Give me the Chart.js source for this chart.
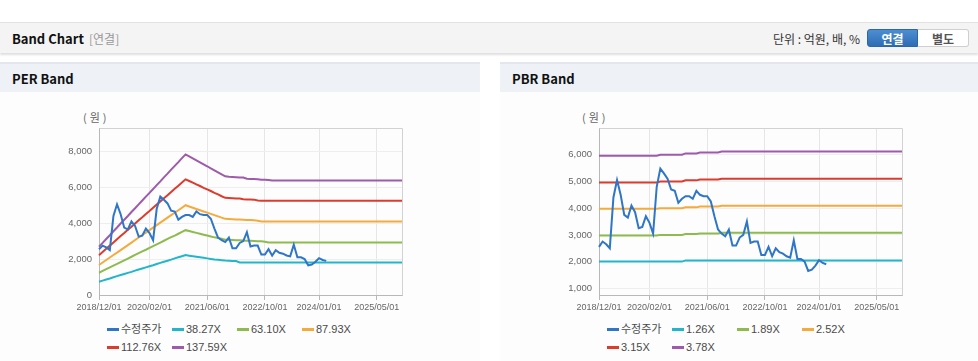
<!DOCTYPE html>
<html><head><meta charset="utf-8">
<script src="https://cdn.jsdelivr.net/npm/chart.js@4.4.1/dist/chart.umd.min.js"></script>
<style>
html,body{margin:0;padding:0}
body{width:978px;height:361px;overflow:hidden;background:#fff;position:relative;font-family:"Liberation Sans","Noto Sans CJK KR",sans-serif}
.hdr{position:absolute;left:0;top:22px;width:978px;height:30px;background:#f4f4f4;border-top:1px solid #e2e2e2;box-shadow:0 2px 2px rgba(0,0,0,0.13)}
.abs{position:absolute;white-space:nowrap}
.htitle{left:12px;top:9px;font-family:"Noto Sans CJK KR";font-weight:bold;font-size:13px;line-height:13px;color:#111}
.hsub{left:89px;top:9px;font-family:"Noto Sans CJK KR";font-size:12px;line-height:13px;color:#999}
.unit{right:118px;top:9px;font-family:"Noto Sans CJK KR";font-size:12px;line-height:13px;color:#333}
.btn{top:6px;height:18px;width:51px;box-sizing:border-box;text-align:center;font-family:"Noto Sans CJK KR";font-weight:bold;font-size:12px;line-height:17px}
.b1{left:867px;background:linear-gradient(#4d8dd2,#2e6db3);color:#fff;border:1px solid #2c66a8;border-radius:3px 0 0 3px}
.b2{left:918px;background:#fff;color:#555;border:1px solid #cfcfcf;border-left:none;border-radius:0 3px 3px 0}
.panel{position:absolute;top:62px;width:480px;height:299px;background:#fdfdfd}
.ptitle{position:absolute;left:0;top:0;width:480px;height:28px;border-top:2px solid #e3e7ed;background:#eef2f7}
.ptitle span{position:absolute;left:12px;top:8px;font-family:"Noto Sans CJK KR";font-weight:bold;font-size:13px;line-height:13px;color:#111}
.unitlbl{position:absolute;left:83px;top:50px;font-family:"Noto Sans CJK KR";font-size:11px;line-height:11px;color:#666;letter-spacing:3px}
.cv{position:absolute;left:0;top:33px;width:480px;height:225px}
.legend{position:absolute;left:107px;top:261px;width:300px}
.legend .it{display:inline-block;width:65px;height:13.5px;line-height:13.5px;font-size:11px;color:#4a4a4a;white-space:nowrap;vertical-align:top}
.legend .mk{display:inline-block;width:12px;height:3px;vertical-align:middle;margin-right:2px;position:relative;top:-1px}
</style></head>
<body>
<div class="hdr">
  <div class="abs htitle">Band Chart</div>
  <div class="abs hsub">[연결]</div>
  <div class="abs unit">단위 : 억원, 배, %</div>
  <div class="abs btn b1">연결</div>
  <div class="abs btn b2">별도</div>
</div>
<div class="panel" style="left:0">
  <div class="ptitle"><span>PER Band</span></div>
  <div class="unitlbl">(원)</div>
  <div class="cv"><canvas id="per" width="480" height="225"></canvas></div>
  <div class="legend" id="perLegend"></div>
</div>
<div class="panel" style="left:500px">
  <div class="ptitle"><span>PBR Band</span></div>
  <div class="unitlbl" style="left:82px">(원)</div>
  <div class="cv"><canvas id="pbr" width="480" height="225"></canvas></div>
  <div class="legend" id="pbrLegend"></div>
</div>
<script>
// ---- categories (monthly, 2018/12/01 .. 2025/12/01) ----
const months = [];
for (let i = 0; i < 85; i++) {
  const t = 2018 * 12 + 11 + i;
  months.push(Math.floor(t / 12) + '/' + String(t % 12 + 1).padStart(2, '0') + '/01');
}
const xTickLabels = ['2018/12/01','2020/02/01','2021/06/01','2022/10/01','2024/01/01','2025/05/01'];
const perYTicks = [0, 2000, 4000, 6000, 8000];
const pbrYTicks = [1000, 2000, 3000, 4000, 5000, 6000];

// ---- adjusted price (수정주가), monthly, 2018/12 .. 2024/03 ----
const price = [
  2550,2750,2650,2500,4400,5050,4500,3750,3650,4100,
  3850,3250,3300,3700,3450,3050,4800,5480,5300,5100,
  4700,4650,4200,4350,4450,4450,4350,4650,4500,4450,
  4450,4250,3700,3200,3050,2950,3200,2600,2600,2900,
  3000,3500,2700,2750,2750,2250,2250,2550,2200,2500,
  2350,2300,2200,2150,2800,2100,2100,2000,1650,1700,
  1850,2050,1950,1900
];

// ---- PER bands ----
const perLabels = ['38.27X','63.10X','87.93X','112.76X','137.59X'];
const per38 = [
  740,800,860,920,990,1050,1110,1170,1230,1290,
  1360,1420,1480,1540,1600,1660,1730,1790,1850,1910,
  1970,2040,2100,2160,2220,2190,2160,2130,2100,2070,
  2040,2010,1980,1960,1940,1920,1910,1900,1890,1810,
  1810,1810,1810,1810,1810,1810,1810,1810,1810,1810,
  1810,1810,1810,1810,1810,1810,1810,1810,1810,1810,
  1810,1810,1810,1810,1810,1810,1810,1810,1810,1810,
  1810,1810,1810,1810,1810,1810,1810,1810,1810,1810,
  1810,1810,1810,1810,1810
];
const per63 = [
  1240,1340,1440,1540,1640,1730,1830,1930,2030,2130,
  2230,2330,2430,2520,2620,2720,2820,2920,3020,3120,
  3220,3310,3410,3510,3610,3560,3510,3460,3410,3360,
  3310,3260,3210,3180,3130,3080,3070,3060,3050,3050,
  3030,3020,3020,3010,3000,2990,2970,2930,2930,2930,
  2930,2930,2930,2930,2930,2930,2930,2930,2930,2930,
  2930,2930,2930,2930,2930,2930,2930,2930,2930,2930,
  2930,2930,2930,2930,2930,2930,2930,2930,2930,2930,
  2930,2930,2930,2930,2930
];
const per87 = [
  1670,1810,1950,2090,2230,2360,2500,2640,2780,2920,
  3060,3200,3340,3470,3610,3750,3890,4030,4170,4310,
  4450,4580,4720,4860,5000,4930,4860,4790,4720,4650,
  4590,4520,4450,4380,4310,4240,4230,4220,4210,4200,
  4190,4180,4170,4160,4140,4100,4100,4100,4100,4100,
  4100,4100,4100,4100,4100,4100,4100,4100,4100,4100,
  4100,4100,4100,4100,4100,4100,4100,4100,4100,4100,
  4100,4100,4100,4100,4100,4100,4100,4100,4100,4100,
  4100,4100,4100,4100,4100
];
const per112 = [
  2220,2400,2570,2750,2920,3100,3280,3450,3630,3800,
  3980,4160,4330,4510,4680,4860,5040,5210,5390,5560,
  5740,5920,6090,6270,6440,6350,6260,6160,6070,5970,
  5880,5790,5690,5600,5500,5410,5400,5390,5380,5370,
  5330,5320,5320,5310,5260,5250,5250,5250,5250,5250,
  5250,5250,5250,5250,5250,5250,5250,5250,5250,5250,
  5250,5250,5250,5250,5250,5250,5250,5250,5250,5250,
  5250,5250,5250,5250,5250,5250,5250,5250,5250,5250,
  5250,5250,5250,5250,5250
];
const per137 = [
  2690,2900,3120,3330,3550,3760,3980,4190,4400,4620,
  4830,5050,5260,5480,5690,5900,6120,6330,6550,6760,
  6980,7190,7400,7620,7830,7720,7610,7500,7390,7280,
  7170,7050,6940,6830,6720,6610,6580,6570,6560,6550,
  6540,6470,6460,6460,6450,6420,6420,6400,6370,6370,
  6370,6370,6370,6370,6370,6370,6370,6370,6370,6370,
  6370,6370,6370,6370,6370,6370,6370,6370,6370,6370,
  6370,6370,6370,6370,6370,6370,6370,6370,6370,6370,
  6370,6370,6370,6370,6370
];

// ---- PBR bands ----
const pbrLabels = ['1.26X','1.89X','2.52X','3.15X','3.78X'];
const pbr126 = [
  2000,2000,2000,2000,2000,2000,2000,2000,2000,2000,
  2000,2000,2000,2000,2000,2000,2000,2000,2000,2000,
  2000,2000,2000,2000,2045,2045,2045,2045,2045,2045,
  2045,2045,2045,2045,2045,2045,2045,2045,2045,2045,
  2045,2045,2045,2045,2045,2045,2045,2045,2045,2045,
  2045,2045,2045,2045,2045,2045,2045,2045,2045,2045,
  2045,2045,2045,2045,2045,2045,2045,2045,2045,2045,
  2045,2045,2045,2045,2045,2045,2045,2045,2045,2045,
  2045,2045,2045,2045,2045
];
const pbr189 = [
  2980,2980,2980,2980,2980,2980,2980,2980,2980,2980,
  2980,2980,2980,2980,2980,2980,2980,3000,3000,3000,
  3000,3000,3000,3000,3030,3030,3030,3030,3050,3050,
  3050,3050,3050,3050,3080,3080,3080,3080,3080,3080,
  3080,3080,3080,3080,3080,3080,3080,3080,3080,3080,
  3080,3080,3080,3080,3080,3080,3080,3080,3080,3080,
  3080,3080,3080,3080,3080,3080,3080,3080,3080,3080,
  3080,3080,3080,3080,3080,3080,3080,3080,3080,3080,
  3080,3080,3080,3080,3080
];
const pbr252 = [
  3980,3980,3980,3980,3980,3980,3980,3980,3980,3980,
  3980,3980,3980,3980,3980,3980,3980,4000,4000,4000,
  4000,4000,4000,4000,4030,4030,4030,4030,4060,4060,
  4060,4060,4060,4060,4090,4090,4090,4090,4090,4090,
  4090,4090,4090,4090,4090,4090,4090,4090,4090,4090,
  4090,4090,4090,4090,4090,4090,4090,4090,4090,4090,
  4090,4090,4090,4090,4090,4090,4090,4090,4090,4090,
  4090,4090,4090,4090,4090,4090,4090,4090,4090,4090,
  4090,4090,4090,4090,4090
];
const pbr315 = [
  4960,4960,4960,4960,4960,4960,4960,4960,4960,4960,
  4960,4960,4960,4960,4960,4960,4960,5000,5000,5000,
  5000,5000,5000,5000,5040,5040,5040,5040,5070,5070,
  5070,5070,5070,5070,5100,5100,5100,5100,5100,5100,
  5100,5100,5100,5100,5100,5100,5100,5100,5100,5100,
  5100,5100,5100,5100,5100,5100,5100,5100,5100,5100,
  5100,5100,5100,5100,5100,5100,5100,5100,5100,5100,
  5100,5100,5100,5100,5100,5100,5100,5100,5100,5100,
  5100,5100,5100,5100,5100
];
const pbr378 = [
  5960,5960,5960,5960,5960,5960,5960,5960,5960,5960,
  5960,5960,5960,5960,5960,5960,5960,6000,6000,6000,
  6000,6000,6000,6000,6050,6050,6050,6050,6080,6080,
  6080,6080,6080,6080,6120,6120,6120,6120,6120,6120,
  6120,6120,6120,6120,6120,6120,6120,6120,6120,6120,
  6120,6120,6120,6120,6120,6120,6120,6120,6120,6120,
  6120,6120,6120,6120,6120,6120,6120,6120,6120,6120,
  6120,6120,6120,6120,6120,6120,6120,6120,6120,6120,
  6120,6120,6120,6120,6120
];

// ---- styling ----
const priceColor = '#2f75c8';
const bandColors = ['#21b6cc', '#8dbb4e', '#f5aa3c', '#dc3b2e', '#9e5bab'];
const FONT = "'Liberation Sans','Noto Sans CJK KR',sans-serif";
const TR = 'rgba(0,0,0,0)';
const isTick = i => xTickLabels.includes(months[i]);

const framePlugin = {
  id: 'frame',
  beforeDatasetsDraw(c) {
    const a = c.chartArea, ctx = c.ctx;
    ctx.save();
    ctx.strokeStyle = '#d2d2d2';
    ctx.lineWidth = 1;
    const l = Math.round(a.left) + 0.5, t = Math.round(a.top) + 0.5, r = Math.round(a.right) + 0.5, b = Math.round(a.bottom) + 0.5;
    ctx.beginPath();
    ctx.moveTo(l, t); ctx.lineTo(r, t); ctx.lineTo(r, b);
    ctx.stroke();
    ctx.restore();
  }
};

function build(canvasId, legendId, bands, labels, yMin, yMax, yTicks) {
  const datasets = [{ label: '수정주가', data: price, borderColor: priceColor }]
    .concat(bands.map((b, i) => ({ label: labels[i], data: b, borderColor: bandColors[i] })));
  datasets.forEach(d => { d.borderWidth = 2; d.pointRadius = 0; d.tension = 0; d.fill = false; d.backgroundColor = d.borderColor; });
  const chart = new Chart(document.getElementById(canvasId), {
    type: 'line',
    data: { labels: months, datasets },
    options: {
      responsive: false,
      animation: false,
      layout: { padding: { left: 0, right: 78, top: 33, bottom: 0 } },
      plugins: { legend: { display: false }, tooltip: { enabled: false } },
      scales: {
        x: {
          type: 'category',
          afterFit: s => { s.height = 25; },
          ticks: {
            autoSkip: false, maxRotation: 0, minRotation: 0, padding: 2,
            color: '#666', font: { family: FONT, size: 9 },
            callback: (v, i) => isTick(i) ? months[i] : ''
          },
          grid: {
            color: c => isTick(c.index) ? '#e6e6e6' : TR,
            tickColor: c => isTick(c.index) ? '#b8b8b8' : TR,
            tickLength: 5
          },
          border: { color: '#b8b8b8' }
        },
        y: {
          min: yMin, max: yMax,
          afterFit: s => { s.width = 99; },
          afterBuildTicks: s => { s.ticks = yTicks.map(v => ({ value: v })); },
          ticks: {
            padding: 7, color: '#666', font: { family: FONT, size: 9.5 },
            callback: v => Number(v).toLocaleString('en-US')
          },
          grid: { color: '#eeeeee', drawTicks: false },
          border: { color: '#b8b8b8' }
        }
      }
    },
    plugins: [framePlugin]
  });
  const lg = document.getElementById(legendId);
  chart.data.datasets.forEach(d => {
    const it = document.createElement('span');
    it.className = 'it';
    const mk = document.createElement('span');
    mk.className = 'mk';
    mk.style.background = d.borderColor;
    it.appendChild(mk);
    it.appendChild(document.createTextNode(d.label));
    lg.appendChild(it);
  });
  return chart;
}

build('per', 'perLegend', [per38, per63, per87, per112, per137], perLabels, 0, 9300, perYTicks);
build('pbr', 'pbrLegend', [pbr126, pbr189, pbr252, pbr315, pbr378], pbrLabels, 750, 7000, pbrYTicks);
</script>
</body></html>
